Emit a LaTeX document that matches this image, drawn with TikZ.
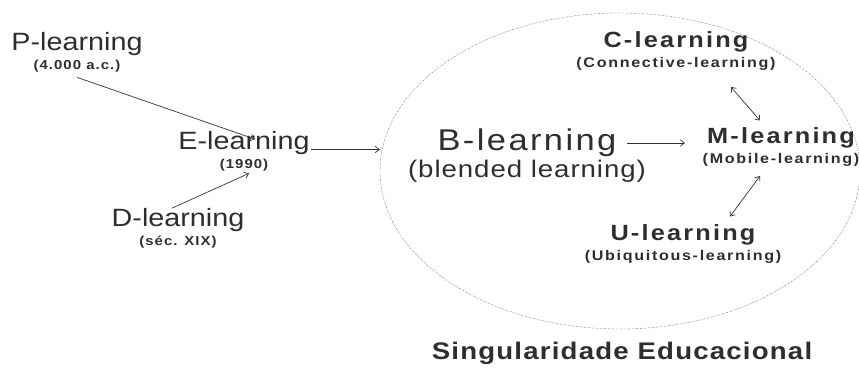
\documentclass[tikz,border=0pt]{standalone}
\usepackage{fontspec}
\setmainfont{Liberation Sans}[FakeStretch=1.15]
\usetikzlibrary{positioning,shapes.geometric,arrows.meta}

\begin{document}
\begin{tikzpicture}[
    x=1pt, y=-1pt,
    node distance=4pt,
    >={Straight Barb[length=4pt,width=6.5pt]},
    every node/.style={inner sep=0pt, text=black!82},
    era/.style={
        font={\fontsize{25}{27}\selectfont}
    },
    eradate/.style={
        font={\fontsize{13}{14}\selectfont\bfseries\addfontfeature{LetterSpace=8}}
    },
    mode/.style={
        font={\fontsize{22}{24}\selectfont\bfseries\addfontfeature{LetterSpace=10}}
    },
    modesub/.style={
        font={\fontsize{14}{15}\selectfont\bfseries\addfontfeature{LetterSpace=12}}
    },
    blend/.style={
        font={\fontsize{30}{32}\selectfont\addfontfeature{LetterSpace=8}}
    },
    blendsub/.style={
        font={\fontsize{24}{26}\selectfont\addfontfeature{LetterSpace=4}}
    },
    link/.style={->, black!80, line width=0.7pt}
]
    \useasboundingbox (0,0) rectangle (859,371);

    % Singularity region
    \node[ellipse, draw=black!55, dash pattern=on 1.5pt off 1pt on 0.5pt off 1pt,
          minimum width=480pt, minimum height=316pt] (sing) at (620,171) {};
    \node[font={\fontsize{24}{26}\selectfont\bfseries\addfontfeature{LetterSpace=5}}]
          (singlabel) at (622,353) {Singularidade Educacional};

    % Early eras
    \node[era] (P) at (77,44) {P-learning};
    \node[eradate] (Pdate) [below=of P] {(4.000 a.c.)};
    \node[era] (E) at (244,143) {E-learning};
    \node[eradate] (Edate) [below=of E] {(1990)};
    \node[era] (D) at (178,220) {D-learning};
    \node[eradate] (Ddate) [below=of D] {(séc. XIX)};

    % Inside the region
    \node[blend] (B) at (527,143) {B-learning};
    \node[blendsub] (Bsub) [below=3pt of B] {(blended learning)};
    \node[mode] (C) at (676,42) {C-learning};
    \node[modesub] (Csub) [below=5pt of C] {(Connective-learning)};
    \node[mode] (M) at (781,138) {M-learning};
    \node[modesub] (Msub) [below=5pt of M] {(Mobile-learning)};
    \node[mode] (U) at (683,235) {U-learning};
    \node[modesub] (Usub) [below=5pt of U] {(Ubiquitous-learning)};

    % Flows into E-learning
    \draw[link] ([yshift=-5pt]Pdate.south) -- ([xshift=11pt,yshift=-8pt]E.north);
    \draw[link] ([xshift=-6pt]D.north) -- ([xshift=5pt,yshift=-2pt]Edate.south);

    % E-learning into the region
    \draw[link] ([xshift=1pt]E.base east) -- (E.base east -| sing.west);

    % Links inside the region
    \draw[link] ([xshift=10pt]B.east) -- ([xshift=-22pt]B.east -| M.west);
    \draw[link, <->] ([xshift=55pt,yshift=-16pt]Csub.south) -- ([xshift=-21pt,yshift=7pt]M.north);
    \draw[link, <->] ([xshift=-21pt,yshift=-9pt]Msub.south) -- ([xshift=47pt,yshift=8pt]U.north);

\end{tikzpicture}
\end{document}
